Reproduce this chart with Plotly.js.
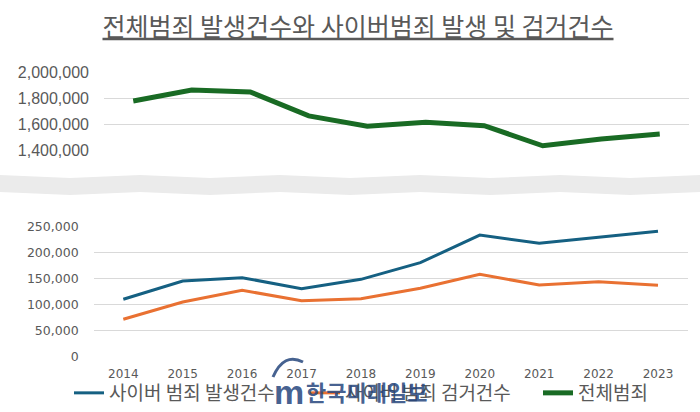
<!DOCTYPE html>
<html>
<head>
<meta charset="utf-8">
<script src="https://cdn.plot.ly/plotly-3.0.1.min.js"></script>
<style>
  html, body { margin: 0; padding: 0; background: #fff; }
  #graph { width: 700px; height: 412px; }
</style>
</head>
<body>
<div id="graph"></div>
<script>
var years = ['2014','2015','2016','2017','2018','2019','2020','2021','2022','2023'];
var totalCrime = [1780000, 1865000, 1851000, 1665000, 1584000, 1615000, 1589000, 1433000, 1486000, 1524000];
var cyberOccur = [110400, 145600, 152000, 130800, 148800, 180800, 234000, 218000, 229600, 241100];
var cyberArrest = [71900, 105200, 127700, 107700, 111500, 131500, 158400, 137900, 144200, 137300];

var topTicks = [1400000, 1600000, 1800000, 2000000];
var bottomTicks = [0, 50000, 100000, 150000, 200000, 250000];

var W = 700, H = 412;
// pixel -> paper helpers
function px(x) { return x / W; }
function py(y) { return 1 - y / H; }

var grey = '#595959';
var gridCol = '#d9d9d9';

var trace_cyber = {
  x: years, y: cyberOccur, xaxis: 'x', yaxis: 'y',
  name: '사이버 범죄 발생건수', mode: 'lines',
  line: {color: '#156082', width: 3},
  legend: 'legend'
};
var trace_arrest = {
  x: years, y: cyberArrest, xaxis: 'x', yaxis: 'y',
  name: '사이버 범죄 검거건수', mode: 'lines',
  line: {color: '#E97132', width: 3},
  legend: 'legend2'
};
var trace_total = {
  x: years, y: totalCrime, xaxis: 'x2', yaxis: 'y2',
  name: '전체범죄', mode: 'lines',
  line: {color: '#196B24', width: 5},
  legend: 'legend3'
};

// wavy break band between the two panels
function wave(y0, amp, dir) {
  var s = '';
  var pts = [0, 70, 140, 210, 280, 350, 420, 490, 560, 630, 700];
  for (var i = 0; i < pts.length; i++) {
    var xx = dir > 0 ? pts[i] : pts[pts.length - 1 - i];
    var yy = y0 + ((i % 2) ? amp : -amp);
    s += (i === 0 && dir > 0 ? 'M' : 'L') + px(xx) + ',' + py(yy) + ' ';
  }
  return s;
}
var bandPath = wave(176.5, 1.5, 1) + wave(193.5, 1.5, -1) + 'Z';

var legendBase = {
  orientation: 'h', xanchor: 'left', yanchor: 'middle',
  y: py(393), bgcolor: 'rgba(0,0,0,0)',
  font: {family: '"Noto Sans CJK KR", "Noto Sans", sans-serif', size: 19, color: grey},
  itemclick: false
};

var layout = {
  width: W, height: H,
  margin: {l: 0, r: 0, t: 0, b: 0},
  paper_bgcolor: '#fff', plot_bgcolor: 'rgba(0,0,0,0)',
  title: {
    text: '<u>전체범죄 발생건수와 사이버범죄 발생 및 검거건수</u>',
    x: px(358), xanchor: 'center', y: py(27), yanchor: 'middle', yref: 'paper',
    font: {family: '"Noto Sans CJK KR", sans-serif', size: 25, color: grey}
  },
  xaxis: {
    domain: [px(93.6), px(687.7)], anchor: 'y', type: 'category', range: [-0.5, 9.5],
    showgrid: false, zeroline: false, showline: false, ticks: '',
    ticklabelstandoff: 8,
    tickfont: {family: '"DejaVu Sans", Verdana, sans-serif', size: 12, color: grey}
  },
  yaxis: {
    domain: [py(356.7), py(226.7)], anchor: 'x', range: [0, 250000],
    tickvals: bottomTicks, tickformat: ',', ticks: '',
    showgrid: true, gridcolor: gridCol, gridwidth: 1, zeroline: false,
    ticklabelstandoff: 14,
    tickfont: {family: '"DejaVu Sans", Verdana, sans-serif', size: 12.5, color: grey}
  },
  xaxis2: {
    domain: [px(104), px(689)], anchor: 'y2', type: 'category', range: [-0.5, 9.5],
    showgrid: false, zeroline: false, showline: false, ticks: '', showticklabels: false
  },
  yaxis2: {
    domain: [py(150), py(72.7)], anchor: 'x2', range: [1400000, 2000000],
    tickvals: topTicks, tickformat: ',', ticks: '',
    showgrid: true, gridcolor: gridCol, gridwidth: 1, zeroline: false,
    ticklabelstandoff: 14,
    tickfont: {family: '"Liberation Sans", Arial, sans-serif', size: 16, color: grey}
  },
  legend: Object.assign({}, legendBase, {x: px(69)}),
  legend2: Object.assign({}, legendBase, {x: px(305)}),
  legend3: Object.assign({}, legendBase, {x: px(538)}),
  showlegend: true,
  shapes: [
    {type: 'path', xref: 'paper', yref: 'paper', path: bandPath,
     fillcolor: '#ebebeb', line: {width: 0}, layer: 'below'},
    {type: 'path', xref: 'paper', yref: 'paper',
     path: 'M' + px(273) + ',' + py(377) + ' Q' + px(284) + ',' + py(352) + ' ' + px(303) + ',' + py(362),
     line: {color: 'rgba(38,70,125,0.85)', width: 3}, layer: 'above'}
  ],
  annotations: [
    {xref: 'paper', yref: 'paper', x: px(289), y: py(392), xanchor: 'center', yanchor: 'middle',
     text: '<b>m</b>', showarrow: false,
     font: {family: '"Liberation Sans", Arial, sans-serif', size: 34, color: 'rgba(38,70,125,0.85)'}},
    {xref: 'paper', yref: 'paper', x: px(366), y: py(391), xanchor: 'center', yanchor: 'middle',
     text: '<b>한국미래일보</b>', showarrow: false,
     font: {family: '"Noto Sans CJK KR", sans-serif', size: 22, color: 'rgba(38,70,125,0.85)'}}
  ]
};

Plotly.newPlot('graph', [trace_cyber, trace_arrest, trace_total], layout, {staticPlot: true});
</script>
</body>
</html>
